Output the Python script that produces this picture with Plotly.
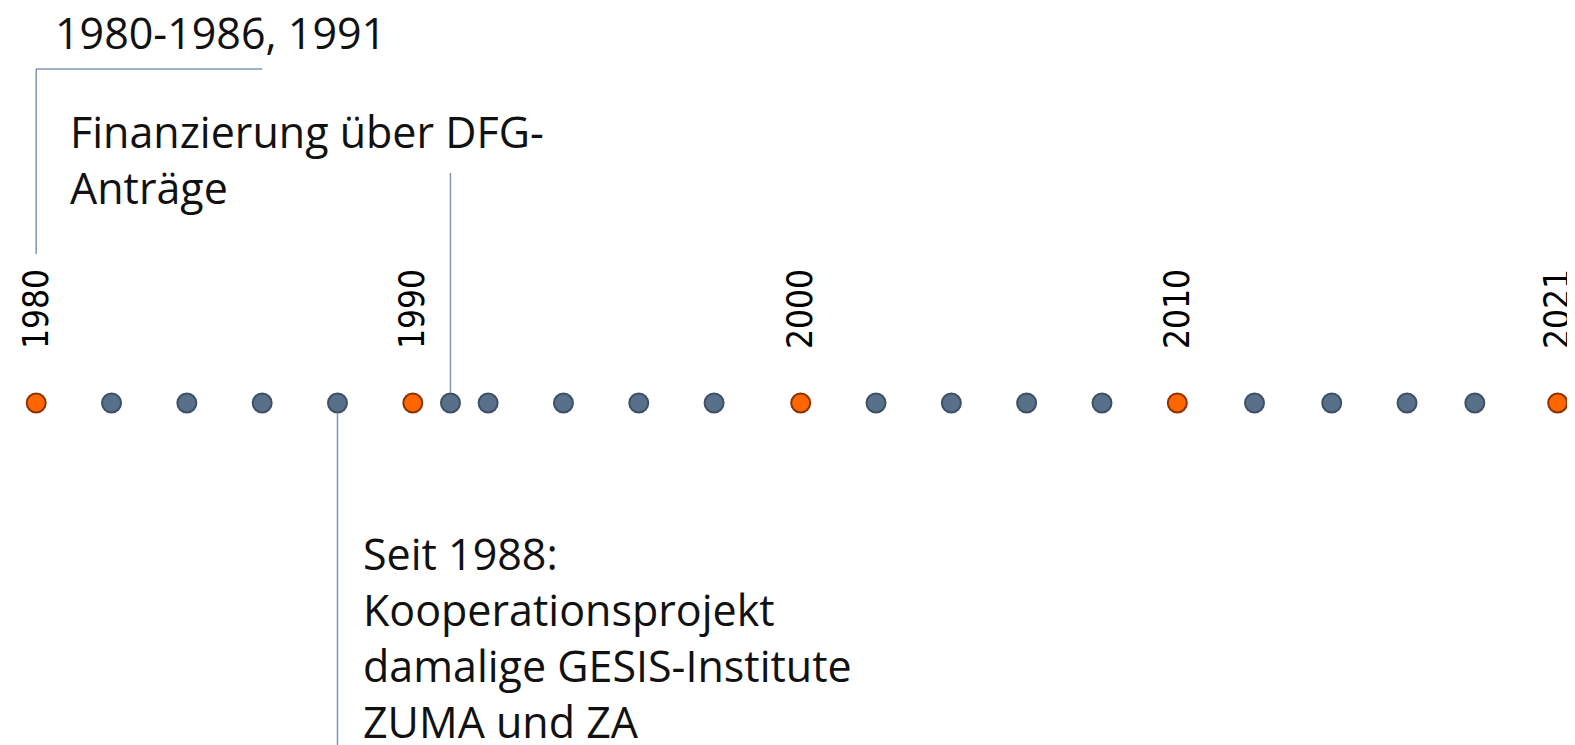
import plotly.graph_objects as go

# ---- data -------------------------------------------------------------
# timeline markers (position on the time axis)
dot_labels = ["1980", "1982", "1984", "1986", "1988", "1990", "1991", "1992",
              "1994", "1996", "1998", "2000", "2002", "2004", "2006", "2008",
              "2010", "2012", "2014", "2016", "2018", "2021"]
dot_pos = [1980, 1982, 1984, 1986, 1988, 1990, 1991, 1992,
           1994, 1996, 1998, 2000.3, 2002.3, 2004.3, 2006.3, 2008.3,
           2010.3, 2012.35, 2014.4, 2016.4, 2018.2, 2020.4]
highlighted = ["1980", "1990", "2000", "2010", "2021"]

tick_labels = ["1980", "1990", "2000", "2010", "2021"]

event_text_1 = "1980-1986, 1991"
event_text_2 = "Finanzierung über DFG-<br>Anträge"
event_text_3 = "Seit 1988:<br>Kooperationsprojekt<br>damalige GESIS-Institute<br>ZUMA und ZA"

# ---- styling ----------------------------------------------------------
PAGE_OFF = 8                      # default body margin of the html page
W, H = 1575 - PAGE_OFF, 745 - PAGE_OFF
ROW_PX = 403                      # screen pixel row of the timeline
ORANGE, ORANGE_EDGE = "#ff6600", "#8a3300"
SLATE, SLATE_EDGE = "#587089", "#3d5066"
LINE = "#8196b2"
TEXT_FONT = "Open Sans, Noto Sans, sans-serif"


def py(p):
    """screen pixel row -> y value on the (pixel-scaled) y axis"""
    return ROW_PX - p


pos_of = dict(zip(dot_labels, dot_pos))
is_hi = [lab in highlighted for lab in dot_labels]

fig = go.Figure()
fig.add_trace(go.Scatter(
    x=dot_pos, y=[0] * len(dot_pos), mode="markers",
    marker=dict(size=19,
                color=[ORANGE if h else SLATE for h in is_hi],
                line=dict(width=2, color=[ORANGE_EDGE if h else SLATE_EDGE for h in is_hi])),
    hoverinfo="text", text=dot_labels, showlegend=False,
))

# connector lines
shapes = [
    dict(type="line", xref="x", yref="y", x0=pos_of["1980"], x1=pos_of["1980"],
         y0=py(69), y1=py(254), line=dict(color=LINE, width=1.5)),
    dict(type="line", xref="x", yref="y", x0=pos_of["1980"], x1=pos_of["1986"],
         y0=py(69), y1=py(69), line=dict(color=LINE, width=1.5)),
    dict(type="line", xref="x", yref="y", x0=pos_of["1991"], x1=pos_of["1991"],
         y0=py(173), y1=py(393), line=dict(color=LINE, width=1.5)),
    dict(type="line", xref="x", yref="y", x0=pos_of["1988"], x1=pos_of["1988"],
         y0=py(413), y1=py(745), line=dict(color=LINE, width=1.5)),
]

tf = dict(family=TEXT_FONT, size=43, color="#111111")
annotations = [
    dict(x=pos_of["1980"], xshift=18, y=py(32), xref="x", yref="y", text=event_text_1,
         showarrow=False, xanchor="left", yanchor="middle", align="left", font=tf,
         borderpad=0),
    dict(x=pos_of["1980"], xshift=33, y=py(159), xref="x", yref="y", text=event_text_2,
         showarrow=False, xanchor="left", yanchor="middle", align="left", font=tf,
         borderpad=0),
    dict(x=pos_of["1988"], xshift=25, y=py(637), xref="x", yref="y", text=event_text_3,
         showarrow=False, xanchor="left", yanchor="middle", align="left", font=tf,
         borderpad=0),
]

fig.update_layout(
    width=W, height=H,
    margin=dict(l=0, r=0, t=0, b=0, autoexpand=False),
    paper_bgcolor="white", plot_bgcolor="white",
    shapes=shapes, annotations=annotations,
    xaxis=dict(range=[1979.251, 2020.86], showgrid=False, zeroline=False, showline=False,
               ticks="", side="top", anchor="free", position=(745 - ROW_PX) / H,
               automargin=False, ticklabeloverflow="allow",
               tickvals=[pos_of[t] for t in tick_labels], ticktext=tick_labels,
               tickangle=-90, ticklabelstandoff=54,
               tickfont=dict(family="DejaVu Sans Condensed, DejaVu Sans", size=35,
                             color="black")),
    yaxis=dict(range=[py(745), py(PAGE_OFF)], visible=False, automargin=False),
)

fig.write_html("out.html")
